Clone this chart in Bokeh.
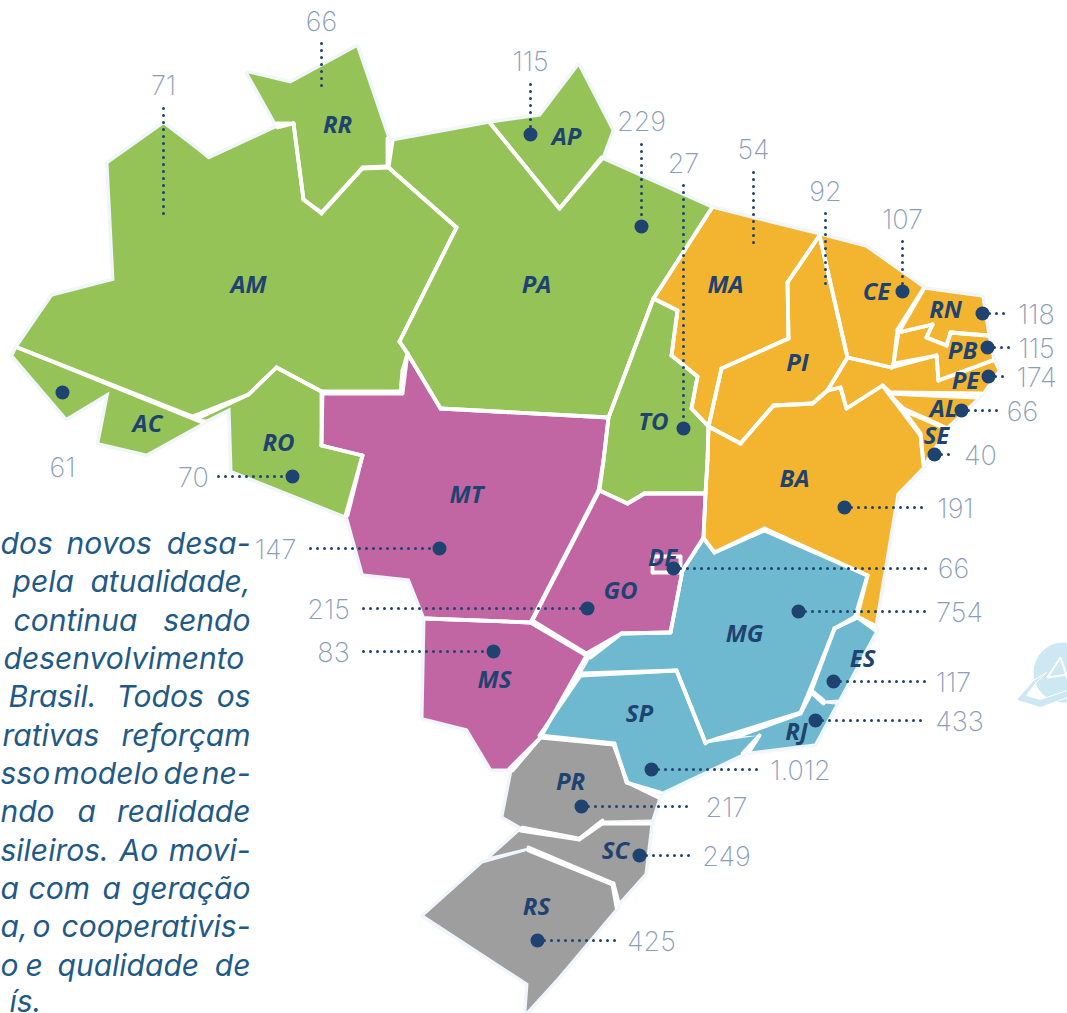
import math
from bokeh.embed import file_html
from bokeh.models import ColumnDataSource
from bokeh.plotting import figure
from bokeh.resources import INLINE
from bokeh.core.properties import value

# ---------- data ----------
STATES = ["AM","RR","AP","PA","TO","MA","PI","CE","RN","PB","PE","AL","SE","BA","DF","MG","ES","RJ","SP","PR","SC","RS","MS","GO","MT","RO","AC"]
VALUES = [71,66,115,229,27,54,92,107,118,115,174,66,40,191,66,754,117,433,1012,217,249,425,83,215,147,70,61]

GREEN, ORANGE, PURPLE, BLUE, GRAY = "#96c357", "#f3b52f", "#c266a3", "#6eb9cf", "#9e9e9e"
REGION = dict(AM=GREEN,RR=GREEN,AP=GREEN,PA=GREEN,TO=GREEN,RO=GREEN,AC=GREEN,
              MA=ORANGE,PI=ORANGE,CE=ORANGE,RN=ORANGE,PB=ORANGE,PE=ORANGE,AL=ORANGE,SE=ORANGE,BA=ORANGE,
              MT=PURPLE,GO=PURPLE,MS=PURPLE,DF=PURPLE,
              MG=BLUE,ES=BLUE,RJ=BLUE,SP=BLUE,
              PR=GRAY,SC=GRAY,RS=GRAY)

# state outlines
AM = [(163,124),(197,150),(208,159),(277,127),(293,123),(303,199),(321,213),(362,168),(388,167),(456,227),(399,341),(407,353),(402,370),(400,391),(321,391),(276,367),(248,394),(192,416),(17,347),(52,296),(114,280),(108,163)]
RR = [(356,47),(387,138),(387,166),(362,167),(321,212),(303,199),(293,123),(276,123),(248,73),(290,83)]
AP = [(490,123),(540,116),(578,66),(611,130),(601,157),(559,208)]
PA = [(392,141),(490,123),(559,208),(601,159),(711,208),(653,298),(608,417),(440,408),(407,353),(399,341),(456,227),(388,167)]
TO = [(653,298),(677,310),(671,355),(697,376),(691,408),(708,426),(707,460),(705,493),(644,493),(627,503),(599,490),(603,460),(608,417)]
MA = [(711,208),(819,235),(787,282),(788,338),(721,368),(708,426),(691,408),(697,376),(671,355),(677,310),(653,298)]
PI = [(819,235),(847,357),(827,390),(812,403),(773,405),(740,443),(708,426),(721,368),(788,338),(787,282)]
CE = [(819,235),(865,247),(923,288),(897,329),(893,363),(891,367),(847,357)]
RN = [(923,289),(981,297),(987,335),(950,332),(946,345),(926,337),(932,324),(898,332)]
PB = [(898,332),(932,324),(926,337),(946,345),(950,332),(987,335),(992,360),(938,380),(936,355),(893,363)]
PE = [(847,357),(891,367),(936,355),(938,380),(992,360),(997,370),(981,393),(890,392),(882,385),(846,408),(840,387),(827,390)]
AL = [(888,393),(977,397),(945,427),(903,408)]
SE = [(903,410),(945,428),(923,463),(920,433)]
BA = [(882,385),(920,435),(923,465),(896,493),(874,625),(855,615),(867,575),(764,528),(714,552),(703,537),(705,493),(707,460),(708,426),(740,443),(773,405),(812,403),(827,390),(840,387),(846,408)]
MG = [(703,538),(714,552),(764,530),(867,575),(857,615),(834,628),(810,688),(800,712),(717,738),(705,742),(676,670),(581,673),(590,657),(621,633),(670,632),(682,570)]
ES = [(857,617),(875,630),(838,699),(823,700),(811,690),(834,628)]
RJ = [(811,692),(823,703),(835,704),(814,743),(749,751),(759,735),(737,736),(800,713)]
SP = [(580,675),(676,670),(705,743),(759,735),(742,753),(660,792),(626,782),(614,743),(539,735)]
PR = [(540,737),(613,744),(627,782),(658,797),(651,819),(602,820),(579,838),(522,827),(503,816),(512,770)]
SC = [(520,830),(579,839),(602,823),(650,823),(644,873),(618,902),(613,883),(528,847),(491,856)]
RS = [(482,863),(528,850),(612,884),(616,907),(557,977),(526,1011),(528,983),(424,915)]
MS = [(425,618),(530,622),(586,655),(540,737),(509,768),(491,768),(467,728),(423,717)]
GO = [(599,490),(627,503),(644,493),(705,493),(703,537),(682,570),(670,632),(621,633),(586,653),(532,620)]
MT = [(322,393),(402,393),(407,353),(440,408),(608,417),(603,460),(598,490),(530,622),(425,618),(409,578),(363,573),(347,515),(362,455),(321,445)]
RO = [(197,418),(248,394),(276,367),(321,391),(321,445),(362,455),(345,515),(232,470),(230,407),(206,419)]
AC = [(13,355),(66,417),(109,391),(99,442),(146,453),(202,422),(17,347)]
DF = [(652,556),(680,556),(680,572),(652,572)]

OUTLINES = [AM,RR,AP,PA,TO,MA,PI,CE,RN,PB,PE,AL,SE,BA,MG,ES,RJ,SP,PR,SC,RS,MS,GO,MT,RO,AC,DF]
OUTLINE_NAMES = ["AM","RR","AP","PA","TO","MA","PI","CE","RN","PB","PE","AL","SE","BA","MG","ES","RJ","SP","PR","SC","RS","MS","GO","MT","RO","AC","DF"]

# ---------- layout ----------
LABEL_AT = dict(AM=(248,285),RR=(337,125),AP=(566,137),PA=(536,285),MA=(725,285),PI=(797,363),CE=(876,292),RN=(945,310),
                PB=(962,351),PE=(965,381),AL=(943,409),SE=(936,436),TO=(653,422),AC=(147,424),RO=(278,443),MT=(466,495),
                GO=(620,591),DF=(662,558),BA=(794,479),MG=(744,634),ES=(862,659),SP=(639,714),RJ=(796,732),MS=(494,680),
                PR=(570,782),SC=(615,851),RS=(536,907))
VALUE_AT = dict(AM=(163,84),RR=(321,20),AP=(530,60),PA=(641,120),TO=(683,162),MA=(753,148),PI=(825,190),CE=(902,218),
                RN=(1036,313),PB=(1036,347),PE=(1036,376),AL=(1022,410),SE=(980,454),BA=(955,507),DF=(953,567),MG=(959,611),
                ES=(953,681),RJ=(959,720),SP=(800,769),PR=(726,806),SC=(726,855),RS=(651,940),MS=(333,651),GO=(328,608),
                MT=(275,548),RO=(193,476),AC=(62,466))
DOT_AT = dict(AP=(530,134),PA=(641,226),TO=(683,428),CE=(902,291),RN=(982,313),PB=(987,347),PE=(988,376),AL=(961,410),
              SE=(934,454),BA=(844,507),DF=(673,568),MG=(798,611),ES=(833,681),RJ=(815,720),SP=(651,769),PR=(581,806),
              SC=(639,855),RS=(537,940),MS=(493,651),GO=(587,608),MT=(439,548),RO=(292,476),AC=(62,392))
LEADERS = dict(AM=((163,108),(163,217)),RR=((321,43),(321,88)),AP=((530,84),(530,134)),PA=((641,144),(641,226)),
               TO=((683,185),(683,428)),MA=((753,172),(753,248)),PI=((825,213),(825,290)),CE=((902,241),(902,291)),
               RN=((982,313),(1009,313)),PB=((987,347),(1009,347)),PE=((988,376),(1009,376)),AL=((961,410),(997,410)),
               SE=((934,454),(954,454)),BA=((844,507),(927,507)),DF=((673,568),(927,568)),MG=((798,611),(927,611)),
               ES=((833,681),(927,681)),RJ=((815,720),(927,720)),SP=((651,769),(762,769)),PR=((581,806),(692,806)),
               SC=((639,855),(692,855)),RS=((537,940),(618,940)),MS=((363,651),(493,651)),GO=((363,608),(587,608)),
               MT=((310,548),(439,548)),RO=((218,476),(292,476)))

# word, left edge (or None: flush right at the column edge), line centre
BODY_WORDS = [("dos",0,543),("novos",66,543),("desa-",None,543),
              ("pela",12,581),("atualidade,",None,581),
              ("continua",13,620),("sendo",None,620),
              ("desenvolvimento",3,658),
              ("Brasil.",8,696),("Todos",116,696),("os",None,696),
              ("rativas",2,735),("reforçam",None,735),
              ("sso",0,773),("modelo",53,773),("de",163,773),("ne-",None,773),
              ("ndo",0,811),("a",77,811),("realidade",None,811),
              ("sileiros.",0,850),("Ao",119,850),("movi-",None,850),
              ("a",0,888),("com",28,888),("a",102,888),("geração",None,888),
              ("a,",0,926),("o",32,926),("cooperativis-",None,926),
              ("o",0,965),("e",25,965),("qualidade",57,965),("de",None,965),
              ("ís.",9,1001)]
COLUMN_RIGHT = 250

NAVY, NUM, BODY = "#1f4371", "#8b9db8", "#1f5a86"

p = figure(width=1067, height=1013, x_range=(0,1067), y_range=(1013,0), toolbar_location=None,
           output_backend="svg", min_border=0, background_fill_color="white", border_fill_color="white")
p.axis.visible = False
p.grid.visible = False
p.outline_line_color = None

xs = [[c[0] for c in o] for o in OUTLINES]
ys = [[c[1] for c in o] for o in OUTLINES]
fills = [REGION[n] for n in OUTLINE_NAMES]

# logo
p.circle(x=[1063], y=[672], radius=30, fill_color="#cde8f3", line_color=None)
p.patch(x=[1017,1033,1046,1034,1026,1040,1067,1067,1040,1017],
        y=[698,680,672,684,695,699,690,697,707,700], fill_color="#cde8f3", line_color="white", line_width=1)
p.line(x=[1067,1060,1047,1067], y=[678,657,677,674], line_color="white", line_width=2)

# pale halo round the whole map, then flat fills
src = ColumnDataSource(dict(xs=xs, ys=ys, c=fills))
p.patches("xs","ys",source=src,fill_color=None,line_color="#f1f6fd",line_width=7,line_join="round")
p.patches("xs","ys",source=src,fill_color="c",line_color=None)

# white borders only where a state has a neighbour on both sides of the edge
def inside(pt, poly):
    x, y = pt
    hit = False
    for (x1,y1),(x2,y2) in zip(poly, poly[1:]+poly[:1]):
        if (y1 > y) != (y2 > y) and x < x1 + (y-y1)*(x2-x1)/(y2-y1):
            hit = not hit
    return hit

def covered(pt):
    return any(inside(pt, o) for o in OUTLINES)

bx, by = [], []
for o in OUTLINES:
    for (x1,y1),(x2,y2) in zip(o, o[1:]+o[:1]):
        L = math.hypot(x2-x1, y2-y1)
        nx, ny = (y2-y1)/L*3.5, -(x2-x1)/L*3.5
        mx, my = (x1+x2)/2, (y1+y2)/2
        if covered((mx+nx,my+ny)) and covered((mx-nx,my-ny)):
            bx.append([x1,x2]); by.append([y1,y2])
p.multi_line(bx, by, line_color="white", line_width=3.8, line_cap="round", line_join="round")

# leaders
for s,(a,b) in LEADERS.items():
    p.line([a[0],b[0]],[a[1],b[1]],line_color=NAVY,line_width=3,line_dash="0 7",line_cap="round")

# dots
dk = list(DOT_AT)
p.scatter([DOT_AT[k][0] for k in dk],[DOT_AT[k][1] for k in dk],size=14,fill_color=NAVY,line_color=None)

# state labels
p.text([LABEL_AT[s][0] for s in STATES],[LABEL_AT[s][1] for s in STATES],text=STATES,
       text_font=value("Open Sans"),text_font_style="bold italic",text_font_size="24px",
       text_color=NAVY,text_align="center",text_baseline="middle",y_offset=-2)

# values
def fmt(v): return f"{v:,}".replace(",", ".")
p.text([VALUE_AT[s][0] for s in STATES],[VALUE_AT[s][1] for s in STATES],text=[fmt(v) for v in VALUES],
       text_font=value("Inter ExtraLight"),text_font_size="27px",text_color=NUM,text_align="center",text_baseline="middle")

# body text
left = [w for w in BODY_WORDS if w[1] is not None]
right = [w for w in BODY_WORDS if w[1] is None]
p.text([w[1] for w in left],[w[2] for w in left],text=[w[0] for w in left],
       text_font=value("Inter"),text_font_style="italic",text_font_size="30px",
       text_color=BODY,text_align="left",text_baseline="middle",y_offset=-1)
p.text([COLUMN_RIGHT]*len(right),[w[2] for w in right],text=[w[0] for w in right],
       text_font=value("Inter"),text_font_style="italic",text_font_size="30px",
       text_color=BODY,text_align="right",text_baseline="middle",y_offset=-1)

open("out.html","w").write(file_html(p, INLINE))
